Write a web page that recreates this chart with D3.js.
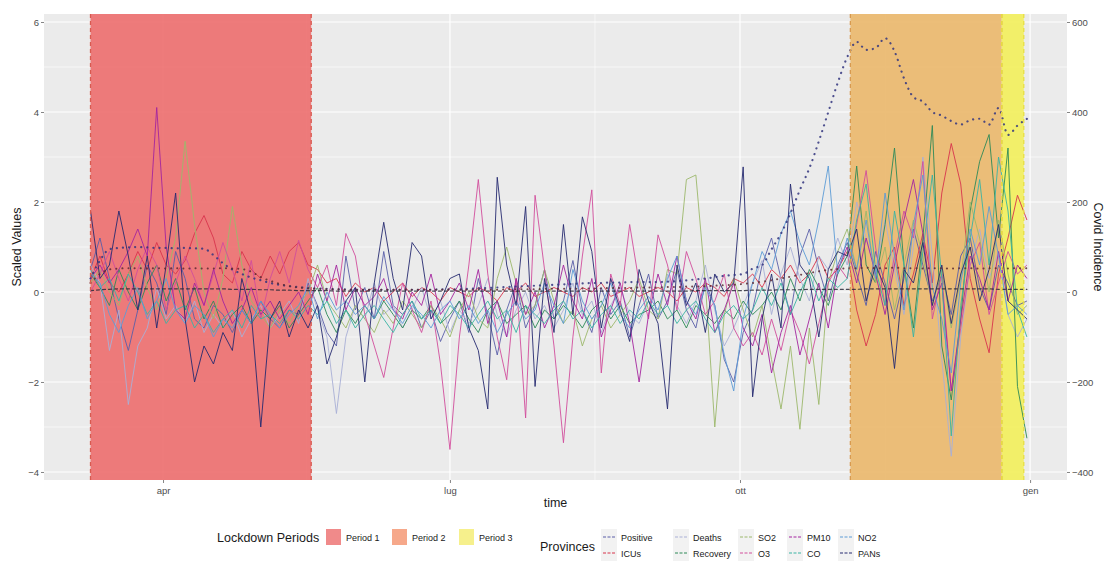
<!DOCTYPE html>
<html><head><meta charset="utf-8">
<script src="https://cdn.jsdelivr.net/npm/d3@7"></script>
<style>body{margin:0;background:#fff;} svg{display:block;font-family:"Liberation Sans",Arial,sans-serif;}</style>
</head><body><svg id="chart" width="1107" height="561"></svg>
<script>
// ---------- DATA ----------
const startDate = "2020-03-09";   // first observation
const stepDays = 3;               // one observation every 3 days

const positive = [0.5,1.2,0.3,-0.6,-1.3,-0.4,0.6,0.2,-0.5,0.9,
 0.3,-0.6,-0.8,-0.3,-0.5,-0.9,-0.4,-0.7,-0.2,-0.6,
 -0.8,-0.4,-0.5,0.2,-0.3,-0.9,-1.2,0.8,-0.4,0.1,
 -0.6,0.9,-0.3,-0.5,-0.2,-0.8,-0.4,-1.1,-0.6,-0.2,
 -0.9,0.3,-0.5,-1.4,-0.4,0.2,-0.8,-0.3,0.5,-0.6,
 -0.2,0.7,-0.4,-0.9,0.1,-0.5,-0.2,-1.0,-0.3,0.4,
 -0.6,-0.2,0.5,-0.4,-0.8,0.2,-0.3,-1.5,-2.0,-0.9,
 -0.4,0.6,1.2,0.3,-0.5,0.8,1.4,0.5,-0.2,0.6,
 1.1,0.4,-0.3,0.9,0.2,-0.6,0.3,1.4,0.6,-0.2,
 0.4,-0.5,0.8,1.2,0.1,-0.4,0.6,0.2,-0.3,-0.2];
const icus = [0.3,0.8,0.2,0.0,0.4,0.9,0.5,1.1,0.6,0.4,
 0.7,1.3,1.7,1.2,0.4,0.2,0.9,0.5,0.3,0.8,
 0.4,0.9,1.1,0.6,0.5,0.2,0.3,-0.1,0.2,0.0,
 0.1,-0.2,0.0,0.2,-0.1,0.1,0.0,-0.2,0.1,0.0,
 -0.1,0.1,0.0,-0.2,0.1,0.0,0.2,-0.1,0.0,0.1,
 0.0,-0.1,0.1,0.0,0.2,-0.1,0.0,0.1,-0.1,0.0,
 0.1,0.0,-0.2,0.1,0.0,0.2,0.1,-0.1,0.3,0.2,
 0.4,0.1,0.5,0.3,0.6,0.2,0.4,0.8,0.3,0.5,
 0.9,-0.4,-1.2,-0.5,0.6,1.0,-0.3,0.4,1.3,0.2,
 2.2,3.3,2.4,0.3,-0.6,-1.35,0.4,1.2,2.15,1.6];
const deaths = [0.6,0.2,-1.3,-0.4,-2.5,-1.2,-0.8,0.1,-0.6,-0.3,
 -0.7,-0.2,-0.9,-0.5,-0.8,-0.4,-1.0,-0.6,-0.3,-0.8,
 -0.5,-0.2,-0.7,0.3,-0.4,-1.0,-2.7,-1.0,-0.3,-0.6,
 0.2,-0.5,-0.3,-0.8,-0.4,0.1,-0.6,-0.2,-0.9,-0.4,
 -0.7,-0.3,0.3,-0.5,-1.0,-0.4,0.0,-0.6,-0.3,-0.8,
 -0.4,0.2,-0.5,-0.2,-0.9,-0.3,0.1,-0.5,-0.7,-0.2,
 -0.6,0.4,-0.3,-0.7,-0.2,0.6,-0.4,-1.2,-0.8,-0.3,
 0.2,0.7,-0.5,0.4,1.0,0.3,-0.2,0.8,0.5,1.2,
 0.6,2.0,1.2,0.4,1.6,0.5,-0.5,1.0,3.0,0.8,
 -1.5,-3.65,-1.0,0.6,1.4,0.3,0.9,-0.5,-1.0,-0.6];
const recovery = [0.4,0.1,-0.3,0.5,0.0,-0.4,0.2,0.6,-0.2,0.3,
 -0.4,0.1,-0.6,-0.2,-0.8,-0.5,-0.3,-0.7,-0.4,-0.6,
 -0.3,-0.8,-0.5,-0.2,0.1,-0.5,-0.9,-0.4,-0.7,-0.3,
 -0.6,-0.2,-0.5,-0.8,-0.4,-0.6,-0.3,-0.7,-0.5,-0.2,
 -0.6,-0.9,-0.4,-0.2,-0.7,-0.5,-0.3,-0.8,-0.4,-0.6,
 -0.3,-0.5,-0.8,-0.4,-0.2,-0.6,-0.3,-0.7,-0.5,-0.4,
 -0.2,-0.6,-0.4,-0.8,-0.3,-0.5,-0.7,-0.4,-0.6,-0.2,
 -0.5,-0.3,0.0,-0.4,0.3,-0.2,0.5,0.1,-0.3,0.4,
 0.8,2.8,0.6,0.2,1.5,3.2,0.6,-0.8,1.2,3.7,
 -1.2,-2.4,-0.6,1.8,2.9,3.5,1.2,3.2,-2.1,-3.25];
const so2 = [0.2,0.5,0.0,-0.3,0.4,0.8,0.1,-0.4,0.3,1.2,
 3.35,1.5,0.0,-0.6,0.3,1.9,0.6,-0.2,-0.5,-0.8,
 -0.4,-0.7,-0.3,0.0,0.6,-0.2,-0.5,-0.8,-0.3,-0.6,
 -0.9,-0.4,-0.7,-0.2,-0.5,-0.8,-0.3,-0.6,-1.0,-0.4,
 0.0,-0.6,-0.8,0.3,1.0,0.2,-0.5,-0.3,0.5,-0.2,
 -0.7,-0.4,-1.2,-0.6,-0.3,-0.8,-0.5,-0.2,0.3,-0.4,
 -0.6,0.5,0.4,2.5,2.6,0.2,-3.0,-0.5,0.3,-0.4,
 -1.0,-0.3,-1.5,-2.6,-1.2,-3.05,-0.8,-2.5,0.2,0.9,
 1.4,0.5,1.8,0.2,1.0,-0.4,0.6,1.6,0.8,-0.3,
 0.5,-0.8,0.3,2.0,1.2,0.0,1.6,0.4,-0.5,-0.3];
const o3 = [0.0,0.4,0.9,0.3,-0.2,0.5,1.0,0.6,-0.4,0.2,
 0.8,0.3,-0.3,0.4,1.1,0.5,-0.2,0.7,-0.6,0.3,
 0.9,0.2,1.15,0.5,0.1,0.6,-0.3,1.3,0.8,-0.5,
 -1.2,-1.9,-0.8,0.2,-0.4,-0.9,-0.2,-1.6,-3.5,-1.0,
 0.6,2.5,0.4,-1.0,-1.95,0.3,-2.8,2.15,0.5,-1.2,
 -3.35,-1.0,0.8,2.27,-1.8,0.4,-0.3,1.5,0.2,-0.6,
 1.27,0.6,-0.4,0.9,0.3,-0.5,-0.2,0.4,-0.8,-1.2,
 -0.9,-1.4,-0.6,-1.3,-0.4,-0.9,-1.6,-0.7,0.2,0.6,
 0.3,1.5,2.7,1.0,-0.3,0.8,1.8,1.2,2.9,-0.6,
 0.4,-2.2,-0.8,0.6,1.1,-0.5,0.2,0.9,0.4,0.6];
const pm10 = [0.3,0.6,0.2,0.5,0.9,1.4,0.8,4.1,1.0,-0.4,
 -0.6,0.2,-0.3,0.5,-0.2,-0.7,-0.4,0.1,-0.5,-0.2,
 -0.6,-0.3,0.0,-0.5,0.4,-0.2,0.6,-0.4,0.1,-0.3,
 -0.1,0.3,-0.4,-0.6,0.0,-0.3,0.4,-0.5,-0.2,0.2,
 -0.4,0.5,-0.7,-0.2,-1.0,0.3,-0.5,0.0,-0.8,-0.3,
 0.6,-0.2,-0.6,0.3,-1.0,-0.4,0.2,-0.7,-2.0,-0.5,
 0.4,-0.3,0.8,-0.2,-0.6,0.3,-0.9,-0.4,0.2,-0.8,
 -1.2,-0.5,-1.8,-0.9,-0.3,-1.4,-0.6,0.2,-0.8,0.5,
 1.0,0.2,1.2,0.4,-0.5,0.6,1.6,2.5,1.3,-0.4,
 0.2,-2.2,-0.6,0.8,0.3,-0.4,0.9,-0.2,0.6,0.3];
const co = [0.5,0.1,0.3,-0.2,0.4,0.0,-0.5,-0.2,-0.7,-0.4,
 -0.3,-0.8,-0.5,-0.9,-0.6,-0.4,-0.8,-0.3,-0.6,-0.5,
 -0.7,-0.4,-0.6,-0.3,-0.5,-0.2,-0.7,-0.4,-0.8,-0.5,
 -0.3,-0.6,-0.9,-0.5,-0.2,-0.6,-0.4,-0.7,-0.3,-0.5,
 -0.8,-0.5,-0.2,-0.6,-0.4,-0.9,-0.3,-0.5,-0.7,-0.4,
 -0.2,-0.6,-0.4,-0.8,-0.5,-0.3,-0.7,-0.4,-0.6,-0.2,
 -0.5,-0.3,-0.7,-0.4,-0.2,-0.6,-0.9,-0.5,-0.3,-0.6,
 -0.4,0.1,-0.3,0.2,-0.5,0.0,0.4,-0.2,0.3,0.1,
 0.3,1.6,2.4,0.5,-0.3,1.8,0.6,-1.0,0.9,2.6,
 0.3,-3.2,-0.3,1.2,2.5,0.6,3.0,1.8,-0.4,-1.0];
const no2 = [0.4,0.2,-0.5,-0.9,-0.3,0.1,-0.6,-0.2,0.3,-0.4,
 -0.7,-0.3,-0.5,-1.0,-0.6,-0.8,-0.4,-0.7,-0.2,-0.5,
 -0.8,-0.5,-0.3,0.1,-0.6,0.0,-0.4,-0.2,-0.5,-0.3,
 -0.6,-0.1,-0.4,-0.7,-0.3,-0.5,-0.8,-0.4,-0.2,-0.6,
 -0.3,-0.7,-0.4,-0.9,-0.5,-0.2,-0.6,-0.4,0.2,-0.3,
 -0.7,0.5,-0.2,-0.6,-0.3,0.2,-0.5,-0.8,-0.4,-0.1,
 -0.4,0.3,0.8,-0.2,-0.5,0.1,-0.3,-1.4,-2.2,-0.6,
 0.2,0.9,0.5,1.3,1.8,1.1,0.6,1.6,2.8,0.4,
 1.2,0.5,1.6,0.3,2.2,0.8,-0.4,1.5,2.6,0.1,
 -0.6,-1.8,0.2,1.4,0.6,1.9,0.8,-0.5,-0.3,-0.5];
const pans = [1.8,0.3,0.6,1.8,0.8,-0.4,0.8,-0.8,0.6,2.2,
 -0.6,-2.0,-1.2,-1.6,-0.9,-1.3,0.3,-0.5,-3.0,-0.6,
 -0.2,-1.0,-0.4,-0.8,-0.3,-1.6,-1.0,-0.2,0.1,-2.0,
 0.2,1.55,0.3,-0.4,1.1,0.8,-0.6,-0.2,0.3,0.4,
 -0.8,-1.3,-2.6,2.55,0.6,-0.3,1.9,-2.1,0.3,-0.9,
 1.5,-0.5,1.67,0.9,-0.8,0.3,-0.4,-1.1,0.5,-0.2,
 -0.7,-2.6,0.6,-0.3,0.2,-0.9,0.4,0.0,0.2,2.78,
 -2.33,-0.6,0.4,-0.8,2.4,0.6,0.3,-1.0,0.5,0.9,
 0.8,1.4,-0.2,0.6,0.1,-1.7,0.5,0.2,1.1,-0.3,
 0.6,-0.7,0.4,1.0,-0.2,0.5,1.5,-0.2,-0.4,-0.6];

// Covid incidence (right axis)
const positiveIncidence = [30,70,95,98,99,100,99,98,98,97,
 98,97,96,82,64,50,40,32,26,20,
 16,13,11,9,8,7,6,6,5,5,
 5,5,5,5,5,5,5,6,6,6,
 7,8,9,10,11,12,13,14,15,16,
 17,18,19,20,20,21,21,22,22,22,
 22,23,24,26,28,30,33,36,38,40,
 52,60,95,130,175,227,275,335,400,465,
 522,556,538,542,564,535,475,433,423,400,
 392,380,372,382,385,372,409,349,370,385];
const icusIncidence = [20,40,50,52,53,53,52,53,52,53,
 52,53,52,52,53,52,51,45,33,25,
 18,13,10,8,7,6,6,5,5,5,
 5,5,5,5,5,5,5,5,5,5,
 5,5,5,5,6,6,6,6,7,7,
 7,7,8,8,8,9,9,9,10,10,
 10,11,11,12,12,13,14,15,16,18,
 20,23,26,30,34,38,42,46,49,51,
 53,53,54,53,53,54,53,53,52,53,
 53,52,53,53,52,53,53,52,53,53];
const deathsIncidence = [3,5,6,7,7,7,7,7,7,7,
 7,7,7,7,7,6,6,6,5,5,
 4,4,3,3,3,3,2,2,2,2,
 2,2,2,2,2,2,2,2,2,2,
 2,2,2,2,2,2,2,2,2,2,
 2,2,2,2,2,2,2,2,2,2,
 2,2,2,2,3,3,3,3,3,3,
 4,4,4,5,5,5,6,6,6,6,
 6,6,7,7,7,7,7,7,7,7,
 7,7,7,7,7,7,6,6,6,6];

const seriesNames = ["Positive","ICUs","Deaths","Recovery","SO2","O3","PM10","CO","NO2","PANs"];
const seriesValues = [positive, icus, deaths, recovery, so2, o3, pm10, co, no2, pans];
const seriesColors = ["#5A5EA8","#D8344C","#A9AFD6","#2E8A58","#9CB86C","#D24E9C","#A4259F","#3AB4A4","#5C9BD6","#262A70"];
const legendOrder = [["Positive","Deaths","SO2","PM10","NO2"],["ICUs","Recovery","O3","CO","PANs"]];

const periodNames = ["Period 1","Period 2","Period 3"];
const periodStart = ["2020-03-09","2020-11-05","2020-12-23"];
const periodEnd   = ["2020-05-18","2020-12-23","2020-12-30"];

const xTickDates  = ["2020-04-01","2020-07-01","2020-10-01","2021-01-01"];
const xTickLabels = ["apr","lug","ott","gen"];
const yLeftTicks  = [-4,-2,0,2,4,6];
const yRightTicks = [-400,-200,0,200,400,600];

// ---------- LAYOUT ----------
const P = {left:44, right:1067, top:14, bottom:480};
const svg = d3.select("#chart");
const parse = s => new Date(s + "T00:00:00Z");
const day = 86400000;
const t0 = parse(startDate);
const dates = positive.map((_, i) => new Date(t0.getTime() + i * stepDays * day));

const x = d3.scaleUtc()
  .domain([new Date(Date.UTC(2020,1,23,6)), new Date(Date.UTC(2021,0,12,17))])
  .range([P.left, P.right]);
const yL = d3.scaleLinear().domain([-4.178, 6.178]).range([P.bottom, P.top]);
const yR = d3.scaleLinear().domain([-417.8, 617.8]).range([P.bottom, P.top]);

// panel
svg.append("rect").attr("x",P.left).attr("y",P.top).attr("width",P.right-P.left).attr("height",P.bottom-P.top).attr("fill","#EBEBEB");

// grid
const g = svg.append("g");
const minorY = d3.range(-3, 6, 2);
g.selectAll(".gmy").data(minorY).join("line").attr("x1",P.left).attr("x2",P.right)
  .attr("y1",d=>yL(d)).attr("y2",d=>yL(d)).attr("stroke","#fff").attr("stroke-width",0.6);
g.selectAll(".gMy").data(yLeftTicks).join("line").attr("x1",P.left).attr("x2",P.right)
  .attr("y1",d=>yL(d)).attr("y2",d=>yL(d)).attr("stroke","#fff").attr("stroke-width",1.2);
const xt = xTickDates.map(parse);
const minorX = d3.range(xt.length-1).map(i => new Date((xt[i].getTime()+xt[i+1].getTime())/2));
g.selectAll(".gmx").data(minorX).join("line").attr("y1",P.top).attr("y2",P.bottom)
  .attr("x1",d=>x(d)).attr("x2",d=>x(d)).attr("stroke","#fff").attr("stroke-width",0.6);
g.selectAll(".gMx").data(xt).join("line").attr("y1",P.top).attr("y2",P.bottom)
  .attr("x1",d=>x(d)).attr("x2",d=>x(d)).attr("stroke","#fff").attr("stroke-width",1.2);

// periods
const periodFill = ["#ED6868","#EAB666","#F2EF55"];
const periodEdge = ["#D85A50","#D89A50","#E8E040"];
const periods = periodNames.map((n,i)=>({name:n, s:parse(periodStart[i]), e:parse(periodEnd[i]), i}));
svg.selectAll(".prect").data(periods).join("rect")
  .attr("x",d=>x(d.s)).attr("width",d=>x(d.e)-x(d.s))
  .attr("y",P.top).attr("height",P.bottom-P.top)
  .attr("fill",d=>periodFill[d.i]).attr("fill-opacity",0.87);

// lines
const lineL = d3.line().x((d,i)=>x(dates[i])).y(d=>yL(d));
const lg = svg.append("g");
seriesValues.forEach((vals, k) => {
  lg.append("path").datum(vals).attr("d", lineL).attr("fill","none")
    .attr("stroke", seriesColors[k]).attr("stroke-width",1.0).attr("stroke-opacity",0.9)
    .attr("stroke-linejoin","round");
});

// incidence (right axis)
const lineR = d3.line().x((d,i)=>x(dates[i])).y(d=>yR(d)).curve(d3.curveMonotoneX);
const incSeries = [
  {v:positiveIncidence, c:"#33357F", dash:"0.1,6", w:2.2},
  {v:icusIncidence, c:"#5A2A34", dash:"0.1,6", w:2.0},
  {v:deathsIncidence, c:"#2B2B3A", dash:"3,3", w:1.2}
];
incSeries.forEach(s => {
  svg.append("path").datum(s.v).attr("d", lineR).attr("fill","none")
    .attr("stroke", s.c).attr("stroke-width", s.w).attr("stroke-dasharray", s.dash)
    .attr("stroke-linecap","round").attr("stroke-opacity",0.85);
});

// period edges (dashed)
periods.forEach(p => {
  [p.s, p.e].forEach(t => {
    svg.append("line").attr("x1",x(t)).attr("x2",x(t)).attr("y1",P.top).attr("y2",P.bottom)
      .attr("stroke",periodEdge[p.i]).attr("stroke-width",1.3).attr("stroke-dasharray","4,3");
  });
});

// axes
const tickCol = "#4D4D4D";
const axL = svg.append("g").attr("transform",`translate(${P.left},0)`)
  .call(d3.axisLeft(yL).tickValues(yLeftTicks).tickSize(3).tickPadding(2).tickFormat(d3.format("d")));
const axR = svg.append("g").attr("transform",`translate(${P.right},0)`)
  .call(d3.axisRight(yR).tickValues(yRightTicks).tickSize(3).tickPadding(2).tickFormat(d3.format("d")));
const axB = svg.append("g").attr("transform",`translate(0,${P.bottom})`)
  .call(d3.axisBottom(x).tickValues(xt).tickSize(3).tickPadding(4).tickFormat((d,i)=>xTickLabels[i]));
[axL,axR,axB].forEach(a => {
  a.select(".domain").remove();
  a.selectAll(".tick line").attr("stroke","#333").attr("stroke-width",0.6);
  a.selectAll(".tick text").attr("fill",tickCol).style("font-size","9.5px").style("font-family","'Liberation Sans',Arial,sans-serif");
});

// axis titles
svg.append("text").attr("transform",`translate(21,${(P.top+P.bottom)/2}) rotate(-90)`)
  .attr("text-anchor","middle").style("font-size","12.5px").attr("fill","#1a1a1a").text("Scaled Values");
svg.append("text").attr("transform",`translate(1094,${(P.top+P.bottom)/2}) rotate(90)`)
  .attr("text-anchor","middle").style("font-size","12.5px").attr("fill","#1a1a1a").text("Covid Incidence");
svg.append("text").attr("x",(P.left+P.right)/2).attr("y",507)
  .attr("text-anchor","middle").style("font-size","12.5px").attr("fill","#1a1a1a").text("time");

// legend: Lockdown periods
const legKey = ["#F08A8A","#F6A88A","#F6F08C"];
svg.append("text").attr("x",217).attr("y",542).style("font-size","12.5px").attr("fill","#1a1a1a").text("Lockdown Periods");
const lpX = [326, 392, 459];
periodNames.forEach((n,i) => {
  svg.append("rect").attr("x",lpX[i]).attr("y",529).attr("width",15).attr("height",16).attr("fill",legKey[i]);
  svg.append("text").attr("x",lpX[i]+20).attr("y",540.5).style("font-size","9px").attr("fill","#1a1a1a").text(n);
});

// legend: Provinces
svg.append("text").attr("x",540).attr("y",551).style("font-size","12.5px").attr("fill","#1a1a1a").text("Provinces");
const colX = [601, 673, 738, 787, 838];
const rowY = [529, 545];
legendOrder.forEach((row, r) => {
  row.forEach((name, c) => {
    const k = seriesNames.indexOf(name);
    const kx = colX[c], ky = rowY[r];
    svg.append("rect").attr("x",kx).attr("y",ky).attr("width",16).attr("height",16).attr("fill","#F2F2F2");
    svg.append("line").attr("x1",kx+2).attr("x2",kx+14).attr("y1",ky+8).attr("y2",ky+8)
      .attr("stroke",seriesColors[k]).attr("stroke-width",1.1).attr("stroke-dasharray","3,1.5");
    svg.append("text").attr("x",kx+20).attr("y",ky+11.5).style("font-size","9px").attr("fill","#1a1a1a").text(name);
  });
});
</script>
</body></html>
